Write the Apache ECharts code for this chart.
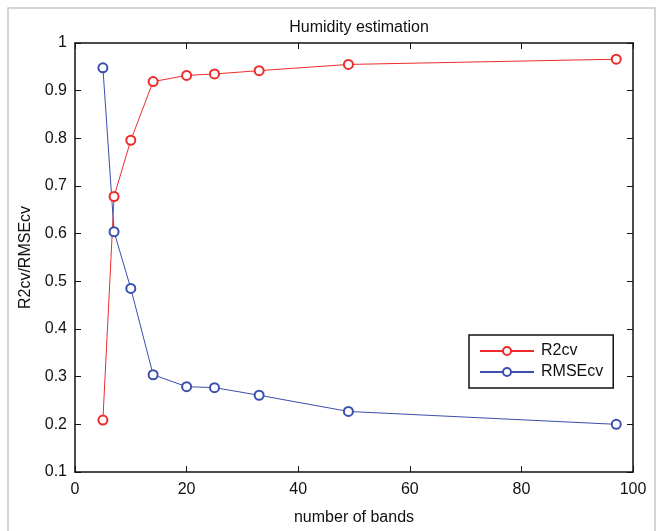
<!DOCTYPE html>
<html>
<head>
<meta charset="utf-8">
<script src="https://cdn.jsdelivr.net/npm/echarts@6/dist/echarts.min.js"></script>
<style>
  html, body { margin: 0; padding: 0; background: #fff; }
  #chart { width: 658px; height: 531px; }
</style>
</head>
<body>
<div id="chart"></div>
<script>
// number of bands
var bands = [5, 7, 10, 14, 20, 25, 33, 49, 97];
var r2cv = [0.209, 0.678, 0.796, 0.919, 0.932, 0.935, 0.942, 0.955, 0.966];
var rmsecv = [0.948, 0.604, 0.485, 0.304, 0.279, 0.277, 0.261, 0.227, 0.200];
var xTicks = [0, 20, 40, 60, 80, 100];
var yTicks = [0.1, 0.2, 0.3, 0.4, 0.5, 0.6, 0.7, 0.8, 0.9, 1];

var font = 'Liberation Sans, Arial, Helvetica, sans-serif';
var myChart = echarts.init(document.getElementById('chart'), null, {renderer: 'canvas'});

function pairs(xs, ys) {
    var out = [];
    for (var i = 0; i < xs.length; i++) out.push([xs[i], ys[i]]);
    return out;
}

var boxLine = {show: true, onZero: false, lineStyle: {color: '#111', width: 1.5}};
var inTick = {show: true, inside: true, length: 6, lineStyle: {color: '#111', width: 1}};

var option = {
    animation: false,
    backgroundColor: '#fff',
    title: {
        text: 'Humidity estimation',
        left: 354, top: 15, textAlign: 'center',
        textStyle: {fontFamily: font, fontSize: 16, fontWeight: 'normal', color: '#111'}
    },
    grid: {left: 75, top: 43, right: 25, bottom: 49},
    legend: {
        orient: 'vertical',
        left: 469, top: 335,
        padding: [8, 10, 8, 10],
        itemGap: 5,
        itemWidth: 54,
        itemHeight: 10,
        backgroundColor: '#fff',
        borderColor: '#111',
        borderWidth: 1.5,
        borderRadius: 0,
        textStyle: {fontFamily: font, fontSize: 16, color: '#111', padding: [0, 0, 0, 2]},
        data: ['R2cv', 'RMSEcv']
    },
    xAxis: [{
        type: 'value', min: 0, max: 100, interval: 20,
        name: 'number of bands', nameLocation: 'middle', nameGap: 38,
        nameTextStyle: {fontFamily: font, fontSize: 16, color: '#111'},
        axisLine: boxLine, axisTick: inTick,
        axisLabel: {fontFamily: font, fontSize: 16, color: '#111', margin: 10},
        splitLine: {show: false}
    }, {
        type: 'value', min: 0, max: 100, interval: 20, position: 'top',
        axisLine: boxLine, axisTick: inTick,
        axisLabel: {show: false}, splitLine: {show: false}
    }],
    yAxis: [{
        type: 'value', min: 0.1, max: 1, interval: 0.1,
        name: 'R2cv/RMSEcv', nameLocation: 'middle', nameGap: 41,
        nameTextStyle: {fontFamily: font, fontSize: 16, color: '#111'},
        axisLine: boxLine, axisTick: inTick,
        axisLabel: {
            fontFamily: font, fontSize: 16, color: '#111', margin: 8,
            formatter: function (v) { return String(Math.round(v * 10) / 10); }
        },
        splitLine: {show: false}
    }, {
        type: 'value', min: 0.1, max: 1, interval: 0.1, position: 'right',
        axisLine: boxLine, axisTick: inTick,
        axisLabel: {show: false}, splitLine: {show: false}
    }],
    graphic: [{
        type: 'rect', silent: true, z: -1,
        shape: {x: 8, y: 8, width: 647, height: 540},
        style: {fill: 'none', stroke: '#c8c8c8', lineWidth: 1.5}
    }],
    series: [{
        name: 'R2cv', type: 'line',
        data: pairs(bands, r2cv),
        symbol: 'emptyCircle', symbolSize: 9,
        lineStyle: {color: '#ee2b2b', width: 1},
        itemStyle: {color: '#ee2b2b', borderWidth: 1},
        z: 3
    }, {
        name: 'RMSEcv', type: 'line',
        data: pairs(bands, rmsecv),
        symbol: 'emptyCircle', symbolSize: 9,
        lineStyle: {color: '#3b4fae', width: 1},
        itemStyle: {color: '#3b4fae', borderWidth: 1},
        z: 3
    }]
};
myChart.setOption(option);
</script>
</body>
</html>
